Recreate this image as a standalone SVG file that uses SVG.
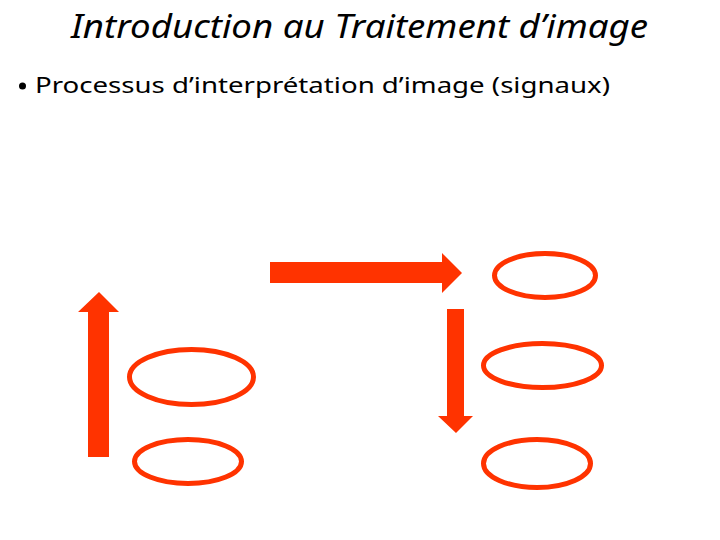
<svg xmlns="http://www.w3.org/2000/svg" width="720" height="540" viewBox="0 0 720 540">
<style>
.t{font-family:"Noto Sans","Open Sans","Liberation Sans",sans-serif;fill:#000}
.n{fill:none;stroke:#FF3300;stroke-width:5}
.a{fill:#FF3300;stroke:none}
</style>
<rect width="720" height="540" fill="#fff"/>
<text class="t" x="71" y="38" font-size="33" font-style="italic" textLength="577" lengthAdjust="spacingAndGlyphs">Introduction au Traitement d’image</text>
<circle cx="22.5" cy="86" r="3.5" fill="#000"/>
<text class="t" x="35" y="93" font-size="22.5" textLength="575" lengthAdjust="spacingAndGlyphs">Processus d’interprétation d’image (signaux)</text>
<g id="connectors">
<polygon class="a" points="88,457 109,457 109,312 119,312 99,292 78,312 88,312"/>
<polygon class="a" points="270,262 442,262 442,253 462,273 442,293 442,283 270,283"/>
<polygon class="a" points="447,309 464,309 464,416 473,416 456,433 438,416 447,416"/>
</g>
<g id="node-left-top"><ellipse class="n" cx="191.5" cy="377" rx="62" ry="27.5"/></g>
<g id="node-left-bottom"><ellipse class="n" cx="188" cy="461.5" rx="53.5" ry="22"/></g>
<g id="node-right-top"><ellipse class="n" cx="545" cy="275.5" rx="50.5" ry="22"/></g>
<g id="node-right-middle"><ellipse class="n" cx="542.5" cy="365.5" rx="59" ry="22"/></g>
<g id="node-right-bottom"><ellipse class="n" cx="537" cy="463.5" rx="53.5" ry="24"/></g>
</svg>
